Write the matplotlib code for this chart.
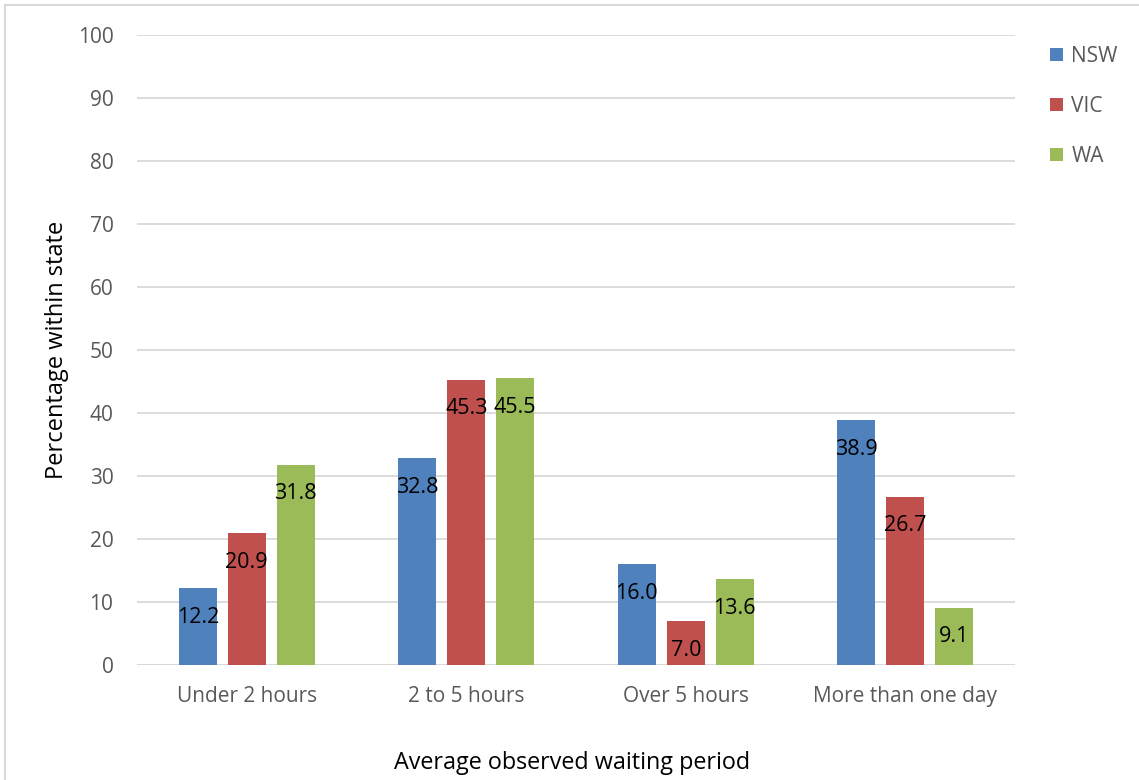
import numpy as np
import matplotlib
matplotlib.use("Agg")
import matplotlib.pyplot as plt
from matplotlib.patches import Rectangle

plt.rcParams["font.family"] = ["Open Sans", "DejaVu Sans"]

categories = ["Under 2 hours", "2 to 5 hours", "Over 5 hours", "More than one day"]
states = ["NSW", "VIC", "WA"]
nsw = [12.2, 32.8, 16.0, 38.9]
vic = [20.9, 45.3, 7.0, 26.7]
wa = [31.8, 45.5, 13.6, 9.1]
yticks = list(range(0, 101, 10))

COLORS = ["#4F81BD", "#C0504D", "#9BBB59"]
TICK = "#595959"
GRID = "#D9D9D9"

fig = plt.figure(figsize=(11.39, 7.8), dpi=100)
ax = fig.add_axes([137 / 1139, 1 - 665 / 780, (1015 - 137) / 1139, (665 - 35) / 780])

x = np.arange(len(categories))
w = 0.173
step = 0.223
for i, (name, vals) in enumerate(zip(states, [nsw, vic, wa])):
    bars = ax.bar(x + (i - 1) * step, vals, w, color=COLORS[i], label=name, zorder=3)
    for b, v in zip(bars, vals):
        ax.annotate(f"{v:.1f}", (b.get_x() + b.get_width() / 2, v),
                    xytext=(0, -21), textcoords="offset points",
                    ha="center", va="center", fontsize=15.5, color="black", zorder=4)

ax.set_xlim(-0.5, len(categories) - 0.5)
ax.set_ylim(0, 100)
ax.set_yticks(yticks)
ax.set_xticks(x)
ax.set_xticklabels(categories)
ax.yaxis.grid(True, color=GRID, linewidth=1.3, zorder=0)
for sp in ax.spines.values():
    sp.set_visible(False)
ax.axhline(0, color=GRID, linewidth=1.3, zorder=2)
ax.tick_params(axis="both", length=0, labelsize=15, colors=TICK)
ax.tick_params(axis="y", pad=17)
ax.tick_params(axis="x", pad=15)

ax.set_ylabel("Percentage within state", fontsize=17, color="black", labelpad=6)
fig.text(0.502, 1 - 763 / 780, "Average observed waiting period",
         ha="center", va="center", fontsize=16.8, color="black")

ax.legend(loc="upper left", bbox_to_anchor=(1.019, 1.012), frameon=False,
          fontsize=15, labelcolor=TICK, handlelength=0.6, handleheight=0.6,
          handletextpad=0.4, labelspacing=1.38)

fig.patches.append(Rectangle((5 / 1139, -0.1), 1.2, 1 - 5 / 780 + 0.1,
                             transform=fig.transFigure, fill=False,
                             edgecolor="#D9D9D9", linewidth=1.5))

fig.savefig("out.png", dpi=100)
